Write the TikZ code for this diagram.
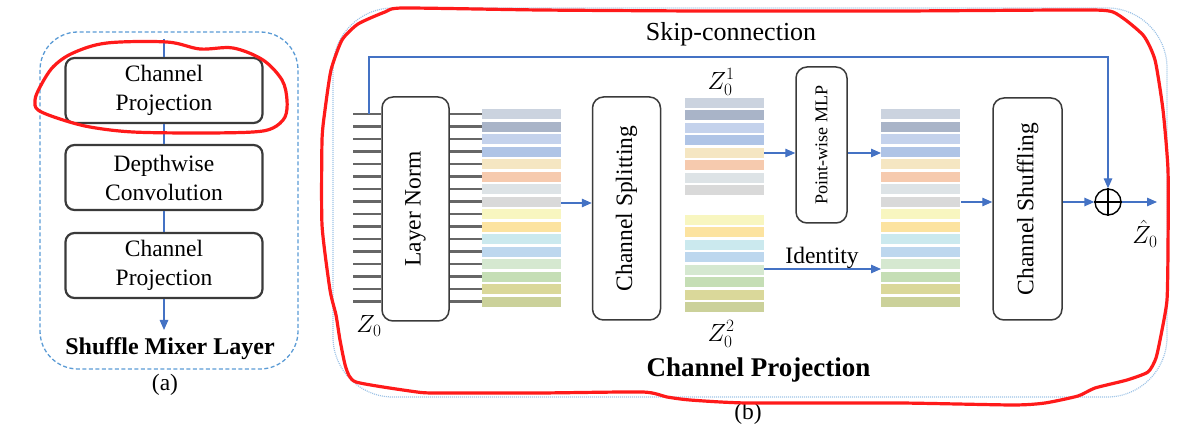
\documentclass[tikz,border=0pt]{standalone}
\usepackage{fontspec}
\setmainfont{Liberation Serif}
\usetikzlibrary{arrows.meta,calc}
\definecolor{ablue}{HTML}{4472C4}
\definecolor{dblue}{HTML}{5B9BD5}
\definecolor{lblue}{HTML}{9DC3E6}
\definecolor{boxc}{HTML}{3A3A3A}
\definecolor{linec}{HTML}{666666}
\definecolor{redc}{HTML}{FF1A1A}
\definecolor{ca}{HTML}{CBD3DF}
\definecolor{cb}{HTML}{A9B4C8}
\definecolor{cc}{HTML}{C4D2EC}
\definecolor{cd}{HTML}{AFC4E6}
\definecolor{ce}{HTML}{F5E6C2}
\definecolor{cf}{HTML}{F6CAAE}
\definecolor{cg}{HTML}{DDE3E6}
\definecolor{ch}{HTML}{D9D9D9}
\definecolor{ci}{HTML}{F8F6C0}
\definecolor{cj}{HTML}{FCE3A0}
\definecolor{ck}{HTML}{CBE9EE}
\definecolor{cl}{HTML}{BDD7EE}
\definecolor{cm}{HTML}{D5E8D0}
\definecolor{cn}{HTML}{C5DEB5}
\definecolor{co}{HTML}{DAD89A}
\definecolor{cp}{HTML}{CBD19A}
\begin{document}
\begin{tikzpicture}[x=1pt,y=-1pt,
  blk/.style={draw=boxc, line width=1.5pt, rounded corners=11pt, inner sep=0pt, fill=white},
  blka/.style={blk, line width=2.2pt, rounded corners=9pt, minimum width=197pt, minimum height=65pt, align=center, txt},
  txt/.style={font=\fontsize{23.5}{29}\selectfont},
  conn/.style={draw=ablue, line width=1.4pt},
  arr/.style={conn, -{Triangle[length=10pt,width=8.5pt]}},
  inl/.style={draw=linec, line width=2.4pt},
  bar/.style={minimum width=79pt, minimum height=10pt, inner sep=0pt, draw=none, anchor=west},
  zlab/.style={font=\fontsize{23}{26}\selectfont, inner sep=1pt},
  redl/.style={draw=redc, line width=3.2pt, line join=round}
]
\useasboundingbox (0,0) rectangle (1180,435);

% ---------------- panel (a)
\draw[dblue, line width=1.3pt, dash pattern=on 4pt off 2.5pt, rounded corners=38pt] (40,32) rectangle (298,369);
\node[blka] (a1) at (164,90.5) {Channel\\Projection};
\node[blka] (a2) at (164,177.5) {Depthwise\\Convolution};
\node[blka] (a3) at (164,265.5) {Channel\\Projection};
\coordinate (atop) at (164,39);
\coordinate (aend) at (164,330);
\draw[conn] (atop) -- (a1.north);
\draw[conn] (a1.south) -- (a2.north);
\draw[conn] (a2.south) -- (a3.north);
\draw[arr] (a3.south) -- (aend);
\node[font=\bfseries\fontsize{24}{28}\selectfont, anchor=base] (alab) at (170,355) {Shuffle Mixer Layer};
\node[txt] (acap) at (165,385) {(a)};

% ---------------- panel (b)
\draw[lblue, line width=1.2pt, dash pattern=on 1pt off 1pt, rounded corners=60pt] (333,8) rectangle (1167,397);

\node[blk, minimum width=67pt, minimum height=224pt, txt] (ln) at (415.5,209) {\rotatebox{90}{Layer Norm}};
\node[blk, minimum width=68pt, minimum height=223pt, txt] (cs) at (626.5,208.5) {\rotatebox{90}{Channel Splitting}};
\node[blk, minimum width=51pt, minimum height=156pt, font=\fontsize{18}{20}\selectfont] (mlp) at (821.5,145) {\rotatebox{90}{Point-wise MLP}};
\node[blk, minimum width=69pt, minimum height=222pt, txt] (csh) at (1027.5,209) {\rotatebox{90}{Channel Shuffling}};

% input / output lines and stacks
\foreach \c [count=\i from 0] in {ca,cb,cc,cd,ce,cf,cg,ch,ci,cj,ck,cl,cm,cn,co,cp}{
  \pgfmathsetmacro{\yy}{114+12.5*\i}
  \coordinate (zin\i) at (353,\yy);
  \coordinate (lo\i) at (482,\yy);
  \draw[inl] (zin\i) -- (zin\i -| ln.west);
  \draw[inl] (lo\i -| ln.east) -- (lo\i);
  \node[bar, fill=\c] (sa\i) at (482,\yy+0.5) {};
  \node[bar, fill=\c] (sc\i) at (881,\yy+0.5) {};
}
\foreach \c [count=\i from 0] in {ca,cb,cc,cd,ce,cf,cg,ch}{
  \node[bar, fill=\c] (st\i) at (685,103+12.5*\i) {};
}
\foreach \c [count=\i from 0] in {ci,cj,ck,cl,cm,cn,co,cp}{
  \node[bar, fill=\c] (sb\i) at (685,220+12.5*\i) {};
}

% arrows
\coordinate (s1out) at (561,203);
\draw[arr] (s1out) -- (s1out -| cs.west);
\coordinate (t5) at (764,153);
\coordinate (s3a) at (881,153);
\draw[arr] (t5) -- (t5 -| mlp.west);
\draw[arr] (mlp.east |- s3a) -- (s3a);
\coordinate (b5) at (764,269);
\coordinate (s3b) at (881,269);
\draw[arr] (b5) -- (s3b);
\node[txt, anchor=base] (idl) at (822,264) {Identity};
\coordinate (s3out) at (961,202);
\draw[arr] (s3out) -- (s3out -| csh.west);

\node[circle, draw=black, line width=1.4pt, minimum size=26pt, inner sep=0pt] (plus) at (1108,202) {};
\draw[black, line width=1.4pt] (plus.north) -- (plus.south) (plus.west) -- (plus.east);
\draw[arr] (csh.east |- plus) -- (plus.west);
\coordinate (zout) at (1157,202);
\draw[arr] (plus.east) -- (zout);

\coordinate (skS) at (369,114);
\coordinate (skC) at (1108,57);
\draw[arr] (skS) |- (skC) -- (plus.north);
\node[font=\fontsize{26}{30}\selectfont, anchor=base] (skl) at (731,41) {Skip-connection};

% math labels
\node[zlab] (z0) at (369,326) {$Z_0$};
\node[zlab] (z01) at (721,82) {$Z_0^1$};
\node[zlab] (z02) at (721,334) {$Z_0^2$};
\node[zlab] (zh) at (1145,234) {$\hat{Z}_0$};

\node[font=\bfseries\fontsize{27}{30}\selectfont, anchor=base] (blab) at (758.5,377) {Channel Projection};
\node[txt] (bcap) at (748,414) {(b)};

% ---------------- red hand-drawn annotations
\draw[redl] plot[smooth cycle, tension=0.55] coordinates {
 (200,49) (167,42) (107,43) (73,53) (53,67) (40,87) (35,100) (38,110) (60,119) (90,127)
 (133,132) (200,133) (253,132) (273,128) (285,117) (287,100) (282,80) (263,60) (233,48)};
\draw[redl] plot[smooth cycle, tension=0.35] coordinates {
 (403,8) (540,10) (700,11) (900,11) (1073,10) (1113,12) (1143,35) (1155,60) (1163,110)
 (1168,170) (1168,250) (1167,300) (1162,330) (1156,358) (1148,372) (1127,380) (1095,388)
 (1078,396) (1045,403) (1013,405) (900,403) (747,403) (690,400) (667,397) (643,392)
 (540,393) (439,393) (417,392) (356,382) (346,368) (340,340) (336,315) (330,290)
 (322,225) (322,140) (325,110) (331,70) (342,40) (358,24) (385,12)};
\end{tikzpicture}
\end{document}
